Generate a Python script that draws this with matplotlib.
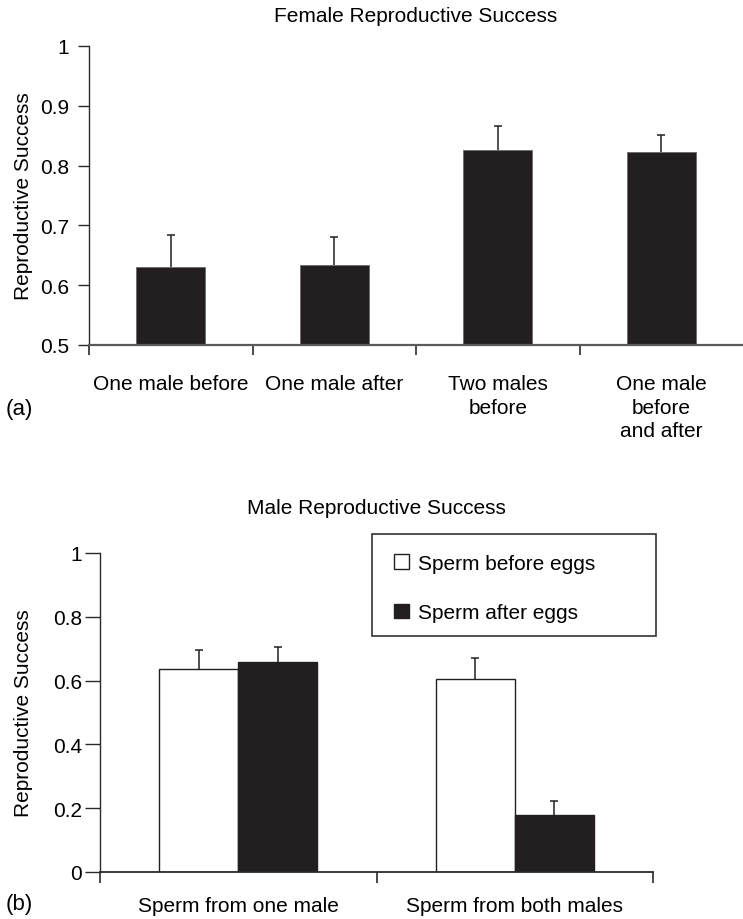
import matplotlib
matplotlib.use("Agg")
import matplotlib.pyplot as plt
import numpy as np
from matplotlib.patches import Rectangle, Patch
from matplotlib.ticker import FuncFormatter

plt.rcParams['font.family'] = ['Liberation Sans', 'DejaVu Sans']

# ---- data ----
female_categories = ["One male before", "One male after", "Two males\nbefore", "One male\nbefore\nand after"]
female_values = [0.631, 0.634, 0.826, 0.822]
female_err = [0.053, 0.047, 0.041, 0.030]

male_categories = ["Sperm from one male", "Sperm from both males"]
male_series = ["Sperm before eggs", "Sperm after eggs"]
male_before = [0.637, 0.605]
male_before_err = [0.058, 0.065]
male_after = [0.657, 0.179]
male_after_err = [0.048, 0.043]

female_yticks = [0.5, 0.6, 0.7, 0.8, 0.9, 1.0]
male_yticks = [0, 0.2, 0.4, 0.6, 0.8, 1.0]

# ---- style ----
BAR = '#231f20'
AX_H = '#5a5a5a'
AX_V = '#2a2a2a'
FS = 15

W, H = 743, 920
fig = plt.figure(figsize=(W / 100, H / 100), dpi=100)

def fx(px):
    return px / W

def fy(py):
    return 1 - py / H

fmt = FuncFormatter(lambda v, p: f"{v:g}")

def upper_errorbar(ax, x, y, err):
    eb = ax.errorbar(x, y, yerr=[np.zeros(len(x)), err], fmt='none',
                     ecolor=BAR, elinewidth=1.1, capsize=3, capthick=1.1, zorder=1)
    # hide the caps that sit on the bar tops (lower caps)
    for cl in eb[1]:
        yd = np.asarray(cl.get_ydata(), dtype=float)
        if np.allclose(yd, np.asarray(y, dtype=float)):
            cl.set_visible(False)
    return eb

# ---------------- (a) Female ----------------
ax1 = fig.add_axes([fx(89), fy(346), fx(743) - fx(89), fy(47) - fy(346)])
x1 = np.arange(len(female_categories))
ax1.bar(x1, female_values, width=0.42, color=BAR, edgecolor='#6a6a6a', linewidth=0.6, zorder=2)
upper_errorbar(ax1, x1, female_values, female_err)
ax1.set_xlim(-0.5, 3.5)
ax1.set_ylim(0.5, 1.0)
ax1.set_yticks(female_yticks)
ax1.yaxis.set_major_formatter(fmt)
ax1.set_xticks(np.arange(-0.5, 3.5, 1.0))
ax1.set_xticklabels([])
ax1.set_xticks(x1, minor=True)
ax1.set_xticklabels(female_categories, minor=True, fontsize=FS, linespacing=1.3)
ax1.tick_params(axis='x', which='minor', length=0, pad=21)
ax1.tick_params(axis='x', which='major', length=7, width=1.2, color=AX_V, direction='out')
ax1.tick_params(axis='y', length=8, width=1.0, color=AX_V, pad=6.5, labelsize=FS)
for s in ['top', 'right']:
    ax1.spines[s].set_visible(False)
ax1.spines['bottom'].set_color(AX_H)
ax1.spines['bottom'].set_linewidth(1.6)
ax1.spines['left'].set_color(AX_V)
ax1.spines['left'].set_linewidth(1.0)
ax1.set_ylabel("Reproductive Success", fontsize=FS)
ax1.yaxis.set_label_coords((33 - 89) / 654, 0.5)

fig.text(fx(416), fy(17), "Female Reproductive Success", ha='center', va='center', fontsize=FS)
fig.text(fx(6), fy(410), "(a)", ha='left', va='center', fontsize=FS + 1)

# ---------------- (b) Male ----------------
ax2 = fig.add_axes([fx(100), fy(873), fx(653) - fx(100), fy(554) - fy(873)])
x2 = np.arange(len(male_categories))
bw = 0.285
ax2.bar(x2 - bw / 2, male_before, width=bw, color='white', edgecolor=BAR, linewidth=1.0,
        zorder=2, label=male_series[0])
ax2.bar(x2 + bw / 2, male_after, width=bw, color=BAR, edgecolor=BAR, linewidth=1.0,
        zorder=2, label=male_series[1])
upper_errorbar(ax2, x2 - bw / 2, male_before, male_before_err)
upper_errorbar(ax2, x2 + bw / 2, male_after, male_after_err)
ax2.set_xlim(-0.5, 1.5)
ax2.set_ylim(0, 1.0)
ax2.set_yticks(male_yticks)
ax2.yaxis.set_major_formatter(fmt)
ax2.set_xticks(np.arange(-0.5, 2.0, 1.0))
ax2.set_xticklabels([])
ax2.set_xticks(x2, minor=True)
ax2.set_xticklabels(male_categories, minor=True, fontsize=FS)
ax2.tick_params(axis='x', which='minor', length=0, pad=17.5)
ax2.tick_params(axis='x', which='major', length=8, width=1.2, color=AX_V, direction='out')
ax2.tick_params(axis='y', length=11, width=1.0, color=AX_V, pad=2, labelsize=FS)
for s in ['top', 'right']:
    ax2.spines[s].set_visible(False)
ax2.spines['bottom'].set_color(AX_V)
ax2.spines['bottom'].set_linewidth(1.3)
ax2.spines['left'].set_color(AX_V)
ax2.spines['left'].set_linewidth(1.0)
ax2.set_ylabel("Reproductive Success", fontsize=FS)
ax2.yaxis.set_label_coords((33 - 100) / 553, 0.5)

# legend box
def axx(px):
    return (px - 100) / 553

def axy(py):
    return (873 - py) / 319

ax2.add_patch(Rectangle((axx(372), axy(637)), axx(656) - axx(372), axy(535) - axy(637),
                        transform=ax2.transAxes, fill=False, edgecolor='#333333',
                        linewidth=1.2, clip_on=False, zorder=5))
handles = [Patch(facecolor='white', edgecolor=BAR, linewidth=1.0),
           Patch(facecolor=BAR, edgecolor=BAR, linewidth=1.0)]
ax2.legend(handles, male_series, loc='upper left', bbox_to_anchor=(axx(394), axy(555)),
           bbox_transform=ax2.transAxes, frameon=False, fontsize=FS, borderpad=0,
           borderaxespad=0, handlelength=0.72, handleheight=0.72, handletextpad=0.45,
           labelspacing=1.45)

fig.text(fx(376), fy(508), "Male Reproductive Success", ha='center', va='center', fontsize=FS)
fig.text(fx(6), fy(905), "(b)", ha='left', va='center', fontsize=FS + 1)

fig.savefig("out.png", dpi=100)
